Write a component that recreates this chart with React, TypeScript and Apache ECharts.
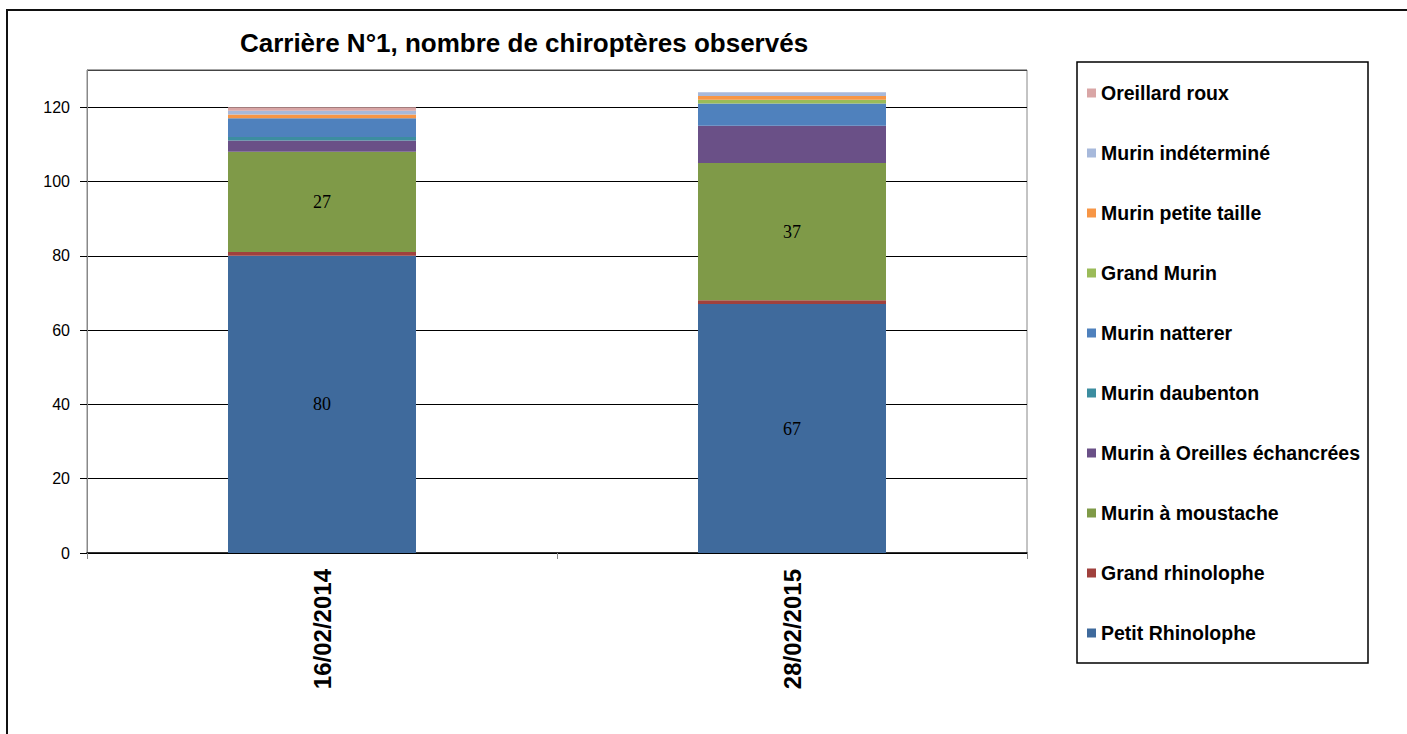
import React, { useEffect, useRef } from "react";
import * as echarts from "echarts";

const categories = ["16/02/2014", "28/02/2015"];
const speciesNames = [
  "Petit Rhinolophe",
  "Grand rhinolophe",
  "Murin à moustache",
  "Murin à Oreilles échancrées",
  "Murin daubenton",
  "Murin natterer",
  "Grand Murin",
  "Murin petite taille",
  "Murin indéterminé",
  "Oreillard roux",
];
const petitRhinolophe = [80, 67];
const grandRhinolophe = [1, 1];
const murinMoustache = [27, 37];
const murinOreillesEchancrees = [3, 10];
const murinDaubenton = [1, 0];
const murinNatterer = [5, 6];
const grandMurin = [0, 1];
const murinPetiteTaille = [1, 1];
const murinIndetermine = [1, 1];
const oreillardRoux = [1, 0];
const yTicks = [0, 20, 40, 60, 80, 100, 120];

const seriesValues = [
  petitRhinolophe,
  grandRhinolophe,
  murinMoustache,
  murinOreillesEchancrees,
  murinDaubenton,
  murinNatterer,
  grandMurin,
  murinPetiteTaille,
  murinIndetermine,
  oreillardRoux,
];
const colors = [
  "#3F6A9C",
  "#A0413D",
  "#7F9A48",
  "#6A5087",
  "#3C8DA0",
  "#4F81BD",
  "#9BBB59",
  "#F79646",
  "#A7B9DB",
  "#D9A6A6",
];
const labelled = [true, false, true, false, false, false, false, false, false, false];

export default function App() {
  const ref = useRef<HTMLDivElement>(null);
  useEffect(() => {
    if (!ref.current) return;
    const chart = echarts.init(ref.current, null, { renderer: "svg" });
    const gridLeft = 87, gridTop = 70, gridW = 940, gridH = 483;
    chart.setOption({
      animation: false,
      backgroundColor: "#fff",
      title: {
        text: "Carrière N°1, nombre de chiroptères observés",
        left: 519,
        top: 25,
        textAlign: "center",
        textStyle: {
          fontFamily: "Liberation Sans, Arial, sans-serif",
          fontSize: 26,
          fontWeight: "bold",
          color: "#000",
        },
      },
      legend: {
        orient: "vertical",
        left: 1082,
        top: 78,
        itemWidth: 9,
        itemHeight: 9,
        itemGap: 40,
        icon: "rect",
        data: speciesNames.slice().reverse(),
        textStyle: {
          fontFamily: "Liberation Sans, Arial, sans-serif",
          fontSize: 19.5,
          fontWeight: "bold",
          color: "#000",
          lineHeight: 20,
        },
        selectedMode: false,
      },
      grid: {
        left: gridLeft,
        top: gridTop,
        width: gridW,
        height: gridH,
        show: true,
        borderColor: "#888",
        borderWidth: 1,
      },
      xAxis: {
        type: "category",
        data: categories,
        axisLine: { lineStyle: { color: "#000", width: 1.5 } },
        axisTick: { show: true, length: 6, lineStyle: { color: "#888" } },
        axisLabel: {
          rotate: 90,
          margin: 16,
          fontFamily: "Liberation Sans, Arial, sans-serif",
          fontSize: 24,
          fontWeight: "bold",
          color: "#000",
        },
      },
      yAxis: {
        type: "value",
        min: 0,
        max: 130,
        interval: 20,
        axisLine: { show: true, lineStyle: { color: "#888" } },
        axisTick: { show: true, length: 7, lineStyle: { color: "#000" } },
        axisLabel: {
          margin: 17,
          showMaxLabel: false,
          formatter: (v: number) => (yTicks.includes(v) ? String(v) : ""),
          fontFamily: "Liberation Sans, Arial, sans-serif",
          fontSize: 16,
          color: "#000",
        },
        splitLine: { show: true, lineStyle: { color: "#000", width: 1 } },
      },
      series: speciesNames.map((name, i) => ({
        name,
        type: "bar",
        stack: "total",
        barWidth: "40%",
        data: seriesValues[i],
        itemStyle: { color: colors[i] },
        label: {
          show: labelled[i],
          position: "inside",
          fontFamily: "Liberation Serif, Times New Roman, serif",
          fontSize: 18,
          color: "#000",
        },
      })),
      graphic: [
        {
          type: "rect",
          shape: { x: 7, y: 10, width: 1420, height: 740 },
          style: { fill: "none", stroke: "#111", lineWidth: 2 },
          silent: true,
        },
        {
          type: "line",
          shape: { x1: gridLeft, y1: gridTop, x2: gridLeft + gridW, y2: gridTop },
          style: { stroke: "#888", lineWidth: 1 },
          z: 100,
          silent: true,
        },
        {
          type: "rect",
          shape: { x: 1077, y: 62, width: 291, height: 601 },
          style: { fill: "none", stroke: "#000", lineWidth: 1.5 },
          silent: true,
        },
      ],
    });
    return () => chart.dispose();
  }, []);
  return (
    <div
      ref={ref}
      style={{ position: "absolute", left: 0, top: 0, width: 1407, height: 734 }}
    />
  );
}
